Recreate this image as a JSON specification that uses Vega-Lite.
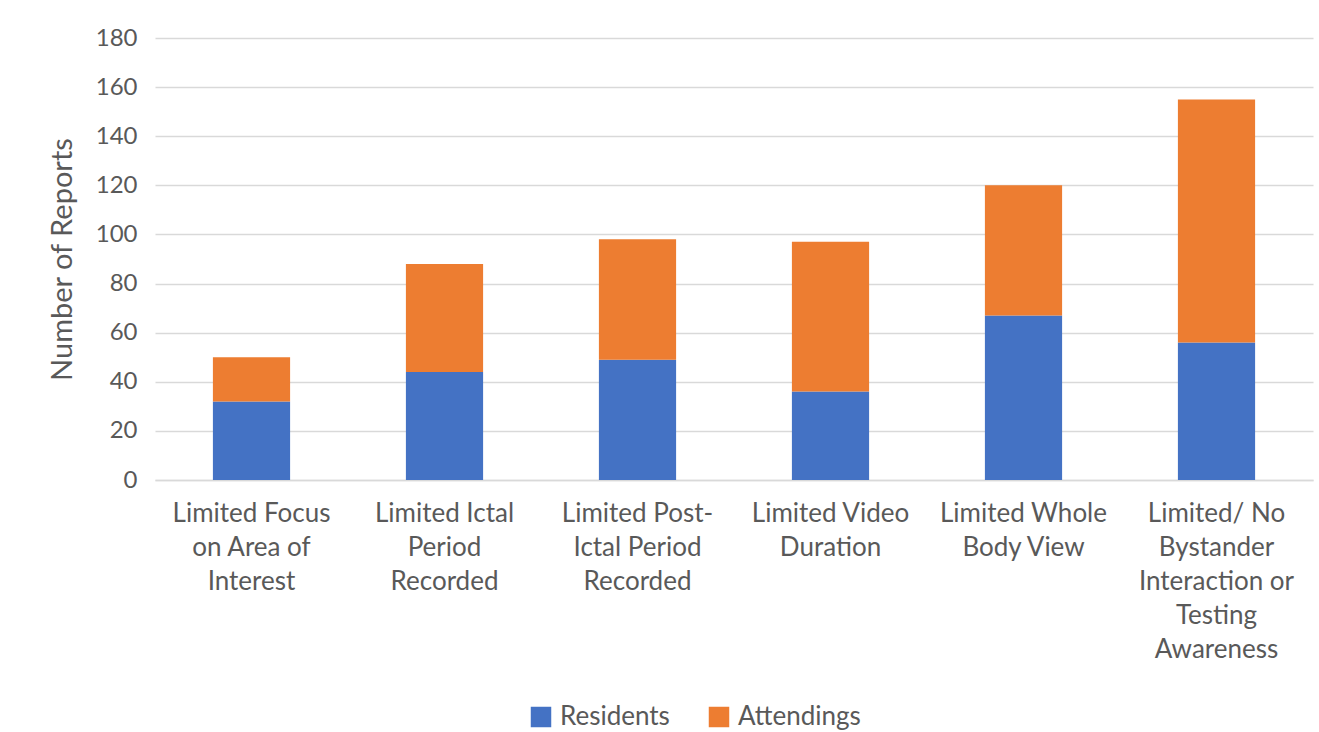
{
  "$schema": "https://vega.github.io/schema/vega-lite/v6.json",
  "autosize": "none",
  "width": 1158,
  "height": 442,
  "padding": {"left": 155, "top": 38, "right": 6, "bottom": 252},
  "background": "white",
  "config": {
    "view": {"stroke": null},
    "font": "Lato",
    "axis": {"labelColor": "#595959", "titleColor": "#595959", "labelFont": "Lato", "titleFont": "Lato"}
  },
  "data": {
    "values": [
      {"category": "Limited Focus\non Area of\nInterest", "group": "Residents", "reports": 32},
      {"category": "Limited Focus\non Area of\nInterest", "group": "Attendings", "reports": 18},
      {"category": "Limited Ictal\nPeriod\nRecorded", "group": "Residents", "reports": 44},
      {"category": "Limited Ictal\nPeriod\nRecorded", "group": "Attendings", "reports": 44},
      {"category": "Limited Post-\nIctal Period\nRecorded", "group": "Residents", "reports": 49},
      {"category": "Limited Post-\nIctal Period\nRecorded", "group": "Attendings", "reports": 49},
      {"category": "Limited Video\nDuration", "group": "Residents", "reports": 36},
      {"category": "Limited Video\nDuration", "group": "Attendings", "reports": 61},
      {"category": "Limited Whole\nBody View", "group": "Residents", "reports": 67},
      {"category": "Limited Whole\nBody View", "group": "Attendings", "reports": 53},
      {"category": "Limited/ No\nBystander\nInteraction or\nTesting\nAwareness", "group": "Residents", "reports": 56},
      {"category": "Limited/ No\nBystander\nInteraction or\nTesting\nAwareness", "group": "Attendings", "reports": 99}
    ]
  },
  "mark": {"type": "bar"},
  "encoding": {
    "x": {
      "field": "category",
      "type": "nominal",
      "sort": null,
      "scale": {"paddingInner": 0.6, "paddingOuter": 0.3},
      "axis": {
        "title": null,
        "labelAngle": 0,
        "labelExpr": "split(datum.label, '\\n')",
        "labelFontSize": 26,
        "labelLineHeight": 34,
        "labelPadding": 20,
        "labelBaseline": "top",
        "ticks": false,
        "domain": true,
        "domainColor": "#d9d9d9",
        "domainWidth": 1.5,
        "labelLimit": 0
      }
    },
    "y": {
      "field": "reports",
      "type": "quantitative",
      "stack": "zero",
      "scale": {"domain": [0, 180], "nice": false},
      "axis": {
        "title": "Number of Reports",
        "titleFontSize": 29,
        "titleFontWeight": "normal",
        "titlePadding": 18,
        "values": [0, 20, 40, 60, 80, 100, 120, 140, 160, 180],
        "labelFontSize": 24,
        "labelPadding": 18,
        "ticks": false,
        "domain": false,
        "grid": true,
        "gridColor": "#d9d9d9",
        "gridWidth": 1.5
      }
    },
    "color": {
      "field": "group",
      "type": "nominal",
      "scale": {"domain": ["Residents", "Attendings"], "range": ["#4472C4", "#ED7D31"]},
      "legend": {
        "title": null,
        "orient": "none",
        "direction": "horizontal",
        "legendX": 373,
        "legendY": 666,
        "symbolType": "square",
        "symbolSize": 420,
        "symbolStrokeWidth": 0,
        "labelFontSize": 26,
        "labelColor": "#595959",
        "labelOffset": 6,
        "columnPadding": 36
      }
    },
    "order": {"field": "group", "sort": "descending"}
  }
}
